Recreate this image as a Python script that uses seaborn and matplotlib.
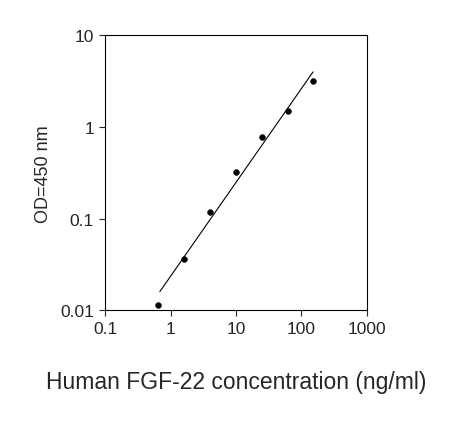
import numpy as np
import matplotlib
matplotlib.use("Agg")
import matplotlib.pyplot as plt
import seaborn as sns
from matplotlib.ticker import FixedLocator, FixedFormatter, NullLocator

conc = [0.64, 1.6, 4.0, 10.0, 25.0, 62.5, 150.0]
od = [0.0115, 0.036, 0.117, 0.32, 0.77, 1.48, 3.14]
xticks = [0.1, 1, 10, 100, 1000]
xlabels = ["0.1", "1", "10", "100", "1000"]
yticks = [0.01, 0.1, 1, 10]
ylabels = ["0.01", "0.1", "1", "10"]

sns.set_style("white")
plt.rcParams['font.family'] = ['Liberation Sans', 'DejaVu Sans']
fig = plt.figure(figsize=(4.61, 4.31), dpi=100)
ax = fig.add_axes([0.228, 0.278, 0.568, 0.638])

lx = np.log10(conc); ly = np.log10(od)
b, a = np.polyfit(lx, ly, 1)
xs = np.array([lx[0] + 0.03, lx[-1]])
line_x = 10 ** xs
line_y = 10 ** (a + b * xs)
sns.lineplot(x=line_x, y=line_y, ax=ax, color="black", linewidth=0.8)
sns.scatterplot(x=conc, y=od, ax=ax, color="black", s=18, edgecolor="black")

ax.set_xscale("log"); ax.set_yscale("log")
ax.set_xlim(0.1, 1000); ax.set_ylim(0.01, 10)
ax.xaxis.set_major_locator(FixedLocator(xticks))
ax.xaxis.set_major_formatter(FixedFormatter(xlabels))
ax.yaxis.set_major_locator(FixedLocator(yticks))
ax.yaxis.set_major_formatter(FixedFormatter(ylabels))
ax.xaxis.set_minor_locator(NullLocator()); ax.yaxis.set_minor_locator(NullLocator())
ax.tick_params(direction="out", length=4, width=0.8, labelsize=12.5, bottom=True, left=True, pad=4)
for s in ax.spines.values():
    s.set_color("black"); s.set_linewidth(0.8)
ax.set_ylabel("OD=450 nm", fontsize=13, labelpad=6)
ax.set_xlabel("Human FGF-22 concentration (ng/ml)", fontsize=16.5, labelpad=24)
fig.savefig("out.png", dpi=100)
